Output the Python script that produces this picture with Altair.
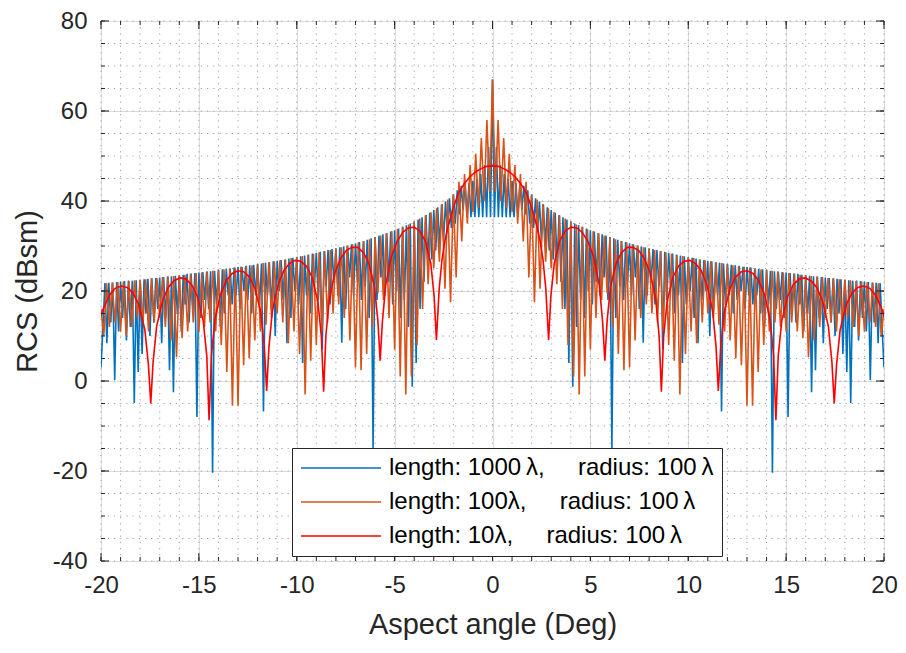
import altair as alt
import pandas as pd

# ---------------- data (curves are symmetric about 0 deg) -------------
# Blue: length 1000 lambda, sampled every 0.1 deg from 0 to 20 deg
blue_step = 0.1
blue_rcs_pos = [
    67, 36.4, 52, 36.4, 48, 36.4, 46, 36.4, 45, 36.4,
    44.5, 36.4, 44, 36.4, 44, 38, 43.4, 37, 42.4, 35,
    41.5, 34, 40.6, 33, 39.9, 31, 39.2, 30, 38.6, 29,
    38.0, 27, 37.4, 26, 36.9, 22, 36.4, 16, 35.9, 4,
    35.5, -1.3, 35.0, 12, 34.6, 18, 34.3, 14, 33.9, 20,
    33.5, 17, 33.2, 22, 32.9, 19, 32.6, 23, 32.3, 18,
    32.0, -15, 31.7, 14, 31.4, 21, 31.1, 18, 30.9, 22,
    30.6, 19, 30.4, 23, 30.1, 16, 29.9, 8.5, 29.7, 19,
    29.5, 22, 29.3, 17, 29.1, 21, 28.9, 7, 28.7, 18,
    28.5, 21, 28.3, 15, 28.1, 19, 27.9, 4, 27.7, 17,
    27.5, 20, 27.4, 14, 27.2, 8.4, 27.0, 18, 26.9, 20,
    26.7, 10, 26.6, 16, 26.4, 19, 26.3, -6.8, 26.1, 17,
    26.0, 19, 25.8, 15, 25.7, 18, 25.6, 20, 25.4, 16,
    25.3, 19, 25.2, 17, 25.0, 19, 24.9, 15, 24.8, 12,
    24.7, 17, 24.5, -20.4, 24.4, 16, 24.3, 18, 24.2, 14,
    24.1, -8, 24.0, 16, 23.9, 13, 23.8, 17, 23.6, 11,
    23.5, 15, 23.4, -2.5, 23.3, 2.4, 23.2, 14, 23.1, 8.4,
    23.0, 16, 22.9, 13, 22.8, 10, 22.7, 15, 22.6, 6,
    22.5, 2, 22.4, -4.9, 22.3, 12, 22.3, 9, 22.2, 14,
    22.1, 11, 22.0, 0.2, 21.9, 13, 21.8, 8.4, 21.75, 12,
    3,
]

# Orange: length 100 lambda, sampled every 1/7 deg from 0 to 20 deg
orange_step = 20 / 140
orange_rcs_pos = [
    67, 42, 58, 40, 54, 38.5, 50.5, 37.5, 48, 35,
    46, 31, 44.3, 23, 41.4, 17.5, 40.3, 20.5, 39.3, 26.5,
    38.4, 25, 37.5, 21.5, 36.8, 16, 36.1, 8, 35.4, 1,
    34.8, -3, 34.3, 1, 33.7, 7, 33.3, 14, 32.8, 18,
    32.3, 19.5, 31.9, 12, 31.5, 6, 31.1, 2.4, 30.8, 3,
    30.4, 9, 30.1, 14, 29.7, 17, 29.4, 15, 29.1, 13,
    28.8, 11, 28.6, 8, 28.3, 4.5, 28.0, -3, 27.8, 6,
    27.5, 11, 27.3, 8.4, 27.0, 13, 26.8, 15, 26.6, 14,
    26.4, 12.5, 26.2, 11, 25.9, 9, 25.7, 5, 25.5, 3.5,
    25.4, -5.5, 25.2, -5.5, 25.0, 2, 24.8, 8, 24.6, 11,
    24.5, 13, 24.3, 12, 24.1, 11, 24.0, 13, 23.8, 11,
    23.6, 9.5, 23.5, 5.3, 23.3, 9, 23.2, 12, 23.1, 14,
    22.9, 13, 22.8, 11, 22.6, 13, 22.5, 14, 22.4, 12,
    22.2, 10, 22.1, 11, 22.0, 13, 21.9, 12, 21.7, 10,
    16,
]

# Red: length 10 lambda
red_angle_pos = [
    0, 0.287, 0.573, 0.860, 1.146, 1.433, 1.720, 2.006, 2.293, 2.436, 2.579, 2.723, 2.866,
    2.981, 3.153, 3.441, 3.728, 4.015, 4.303, 4.590, 4.877, 5.164, 5.452, 5.624, 5.739,
    5.855, 6.028, 6.317, 6.605, 6.894, 7.183, 7.472, 7.761, 8.049, 8.338, 8.511, 8.627,
    8.743, 8.918, 9.209, 9.500, 9.791, 10.082, 10.373, 10.664, 10.955, 11.246, 11.420, 11.537,
    11.655, 11.831, 12.125, 12.419, 12.713, 13.008, 13.302, 13.596, 13.890, 14.184, 14.360, 14.478,
    14.597, 14.776, 15.074, 15.372, 15.670, 15.968, 16.266, 16.564, 16.862, 17.160, 17.339, 17.458,
    17.579, 17.761, 18.064, 18.367, 18.670, 18.973, 19.276, 19.579, 19.882, 20.0,
]
red_rcs_pos = [
    47.8, 47.7, 47.2, 46.5, 45.4, 43.9, 41.9, 38.5, 34.0, 31.0, 27.0, 20.5, 9.1,
    18.8, 26.2, 31.2, 33.4, 34.2, 34.0, 33.0, 31.0, 27.6, 21.4, 13.2, 4.5,
    13.3, 20.9, 26.2, 28.6, 29.7, 29.7, 29.0, 27.2, 24.1, 18.1, 10.1, -2.4,
    9.9, 17.6, 23.0, 25.5, 26.6, 26.8, 26.1, 24.5, 21.4, 15.6, 7.6, -2.2,
    7.4, 15.1, 20.5, 23.1, 24.3, 24.5, 23.9, 22.3, 19.3, 13.5, 5.6, -8.7,
    5.6, 13.3, 18.8, 21.4, 22.7, 22.9, 22.3, 20.8, 17.8, 12.1, 4.2, -5.0,
    3.7, 11.4, 16.9, 19.6, 20.8, 21.1, 20.6, 19.0, 16.1, 14.4,
]

GAP = "\u00a0" * 5
series_names = [
    "length: 1000\u2009\u03bb," + GAP + "radius: 100\u2009\u03bb",
    "length: 100\u03bb," + GAP + "radius: 100\u2009\u03bb",
    "length: 10\u03bb," + GAP + "radius: 100\u2009\u03bb",
]
series_colors = ["#0072BD", "#D95319", "#FF0000"]

x_major = [-20, -15, -10, -5, 0, 5, 10, 15, 20]
y_major = [-40, -20, 0, 20, 40, 60, 80]
x_minor = [v for v in range(-20, 21)]
y_minor = [v for v in range(-40, 81, 5)]


def mirror(xs, ys):
    xs_full = [-x for x in reversed(xs[1:])] + list(xs)
    ys_full = list(reversed(ys[1:])) + list(ys)
    return xs_full, ys_full


def frame(xs, ys, name):
    xf, yf = mirror(xs, ys)
    return pd.DataFrame({"angle": xf, "rcs": yf, "series": name})


blue_df = frame([round(i * blue_step, 4) for i in range(len(blue_rcs_pos))], blue_rcs_pos, series_names[0])
orange_df = frame([round(i * orange_step, 4) for i in range(len(orange_rcs_pos))], orange_rcs_pos, series_names[1])
red_df = frame(red_angle_pos, red_rcs_pos, series_names[2])

# ---------------- styling ----------------
FONT = "Liberation Sans"
TXT = "#262626"
W, H = 783, 540

xscale = alt.Scale(domain=[-20, 20], nice=False, zero=False)
yscale = alt.Scale(domain=[-40, 80], nice=False, zero=False)

X_AX = alt.Axis(values=x_major, grid=True, gridColor="#dcdcdc", gridWidth=1, ticks=False, domain=False,
                labelExpr="'' + datum.value", labelFont=FONT, labelFontSize=24, labelColor=TXT,
                labelPadding=12, labelFlush=False, labelOverlap=False,
                title="Aspect angle (Deg)", titleFont=FONT, titleFontSize=29, titleFontWeight="normal",
                titleColor=TXT, titleY=72, titleBaseline="alphabetic")
Y_AX = alt.Axis(values=y_major, grid=True, gridColor="#dcdcdc", gridWidth=1, ticks=False, domain=False,
                labelExpr="'' + datum.value", labelFont=FONT, labelFontSize=24, labelColor=TXT,
                labelPadding=14, labelFlush=False, labelOverlap=False,
                title="RCS (dBsm)", titleFont=FONT, titleFontSize=29, titleFontWeight="normal",
                titleColor=TXT, titleX=-74, titleY=H / 2, titleBaseline="middle", titleAngle=-90)

XE = alt.X("angle:Q", scale=xscale, axis=X_AX)
YE = alt.Y("rcs:Q", scale=yscale, axis=Y_AX)

LEG = alt.Legend(title=None, orient="none", legendX=191, legendY=427,
                 strokeColor=TXT, fillColor="white", padding=8,
                 labelFont=FONT, labelFontSize=24, labelColor="#000000", labelLimit=800,
                 symbolType="M-4,0L4,0", symbolSize=400, symbolStrokeWidth=1.5,
                 symbolOffset=29, labelOffset=36, rowPadding=10, cornerRadius=0)

color = alt.Color("series:N", scale=alt.Scale(domain=series_names, range=series_colors), legend=LEG)

xminor_df = pd.DataFrame({"angle": x_minor})
yminor_df = pd.DataFrame({"rcs": y_minor})
xmajor_df = pd.DataFrame({"angle": x_major})
ymajor_df = pd.DataFrame({"rcs": y_major})

minor_v = alt.Chart(xminor_df).mark_rule(color="#a0a0a0", strokeWidth=1, strokeDash=[1.2, 5]).encode(x=XE)
minor_h = alt.Chart(yminor_df).mark_rule(color="#a0a0a0", strokeWidth=1, strokeDash=[1.2, 5]).encode(y=YE)

lines = [
    alt.Chart(df).mark_line(strokeWidth=w, clip=True).encode(x=XE, y=YE, color=color, order="angle:Q")
    for df, w in [(blue_df, 1.6), (orange_df, 1.6), (red_df, 1.6)]
]

tick_style = dict(color=TXT, strokeWidth=1)
ticks = [
    alt.Chart(xminor_df).mark_rule(**tick_style).encode(x=XE, y=alt.value(H), y2=alt.value(H - 4)),
    alt.Chart(xminor_df).mark_rule(**tick_style).encode(x=XE, y=alt.value(0), y2=alt.value(4)),
    alt.Chart(xmajor_df).mark_rule(**tick_style).encode(x=XE, y=alt.value(H), y2=alt.value(H - 8)),
    alt.Chart(xmajor_df).mark_rule(**tick_style).encode(x=XE, y=alt.value(0), y2=alt.value(8)),
    alt.Chart(yminor_df).mark_rule(**tick_style).encode(y=YE, x=alt.value(0), x2=alt.value(4)),
    alt.Chart(yminor_df).mark_rule(**tick_style).encode(y=YE, x=alt.value(W), x2=alt.value(W - 4)),
    alt.Chart(ymajor_df).mark_rule(**tick_style).encode(y=YE, x=alt.value(0), x2=alt.value(8)),
    alt.Chart(ymajor_df).mark_rule(**tick_style).encode(y=YE, x=alt.value(W), x2=alt.value(W - 8)),
]

chart = alt.layer(minor_v, minor_h, *lines, *ticks).properties(
    width=W, height=H,
    autosize=alt.AutoSizeParams(type="none"),
    padding={"left": 93, "top": 13, "right": 14, "bottom": 80},
).configure_view(
    stroke=TXT, strokeWidth=1
).configure(font=FONT, background="white")

chart.save("out.html", embed_options={"renderer": "svg", "actions": False})
